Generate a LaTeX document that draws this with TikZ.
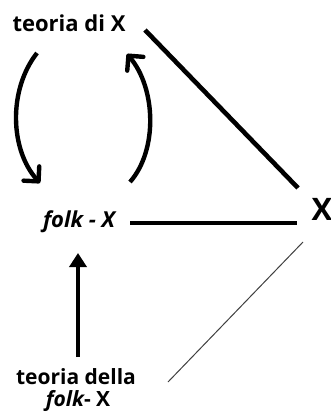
\documentclass[tikz,border=0pt]{standalone}
\usepackage{fontspec}
\setmainfont{Open Sans}
\usetikzlibrary{arrows.meta}
\begin{document}
\begin{tikzpicture}[x=1pt,y=-1pt,
  lab/.style={font=\fontsize{22}{18}\selectfont\bfseries, inner sep=0pt, anchor=base},
  small lab/.style={lab, font=\fontsize{21}{18}\selectfont\bfseries},
  thick line/.style={line width=4.6pt},
  thin line/.style={line width=1pt, black!75},
  barb/.style={line width=4.4pt, -{Straight Barb[angle=90:15pt, round=false]}},
  uparrow/.style={line width=4.6pt, -{Triangle[width=17pt,length=14pt]}}]
\useasboundingbox (0,0) rectangle (331,412);
\node[lab] (tdx) at (69,32) {teoria di X};
\node[lab] (fx) at (79,227) {\itshape folk - X};
\node[font=\fontsize{31}{32}\selectfont\bfseries, inner sep=0pt, anchor=base] (X) at (322,220) {X};
\node[small lab] (tdf1) at (76,384) {teoria della};
\node[small lab] (tdf2) at (78,406) {\itshape folk\upshape - X};
% endpoints
\coordinate (d1) at (145,30);
\coordinate (d2) at (298,188);
\coordinate (h1) at (130,223);
\coordinate (h2) at (297,223);
\coordinate (t1) at (303,242);
\coordinate (t2) at (168,382);
\coordinate (la) at (37,53);
\coordinate (lb) at (40,183);
\coordinate (ra) at (130,182);
\coordinate (rb) at (127,54);
\coordinate (ua) at (78,357);
\coordinate (ub) at (78,253);
\draw[thick line] (d1) -- (d2);
\draw[thick line, line width=4pt] (h1) -- (h2);
\draw[thin line] (t1) -- (t2);
\draw[barb] (la) .. controls (8,90) and (10,150) .. (lb);
\draw[barb] (ra) .. controls (158,150) and (156,88) .. (rb);
\draw[uparrow] (ua) -- (ub);
\end{tikzpicture}
\end{document}
